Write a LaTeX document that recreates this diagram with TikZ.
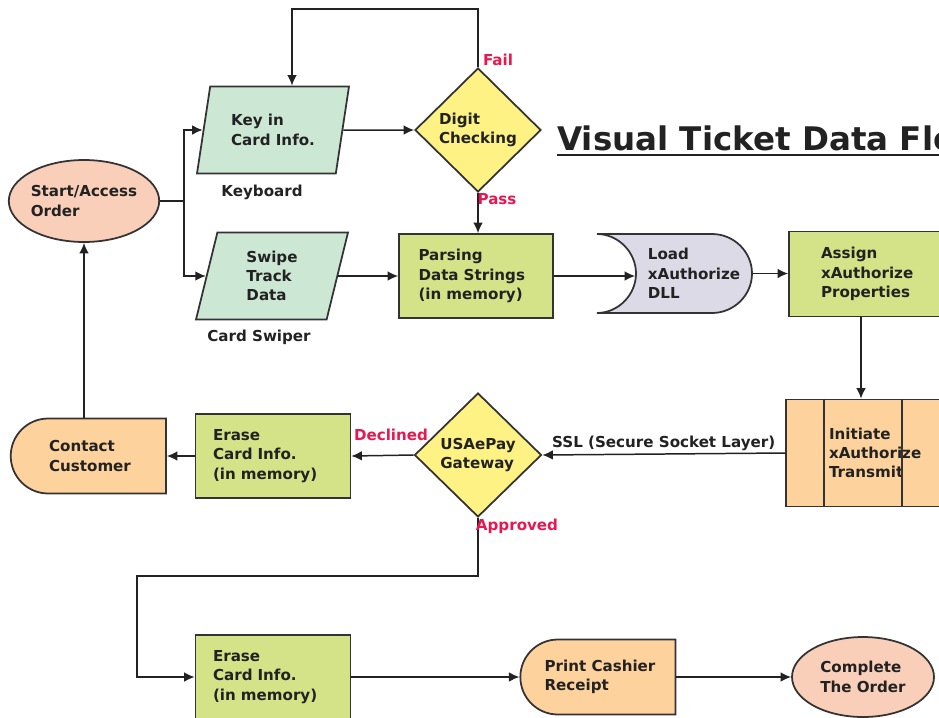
\documentclass[tikz,border=0pt]{standalone}
\usepackage{fontspec}
\newfontfamily\flowfont{DejaVu Sans Bold}
\usetikzlibrary{arrows.meta,shapes.geometric,shapes.misc}

\definecolor{inkgray}{HTML}{222222}
\definecolor{edgegray}{HTML}{333333}
\definecolor{salmon}{HTML}{F9CFBA}
\definecolor{mint}{HTML}{CCE7D4}
\definecolor{lemon}{HTML}{FEF285}
\definecolor{leaf}{HTML}{D4E388}
\definecolor{lavender}{HTML}{DDDAE8}
\definecolor{peach}{HTML}{FDD29C}
\definecolor{flagred}{HTML}{E8174F}

\begin{document}
\begin{tikzpicture}[x=0.02cm,y=-0.02cm,>={Latex[length=6pt,width=5.5pt]},
  font=\flowfont\fontsize{8.6}{11}\selectfont,
  link/.style={draw=inkgray,line width=0.85pt},
  shp/.style={draw=edgegray,line width=1pt,align=left,text=inkgray},
  procbox/.style={shp,rectangle,fill=leaf,minimum width=3.1cm,minimum height=1.68cm},
  iobox/.style={shp,trapezium,trapezium left angle=67,trapezium right angle=113,
    trapezium stretches body,fill=mint,minimum width=3.04cm,minimum height=1.74cm,inner sep=0pt},
  decide/.style={shp,diamond,fill=lemon,minimum width=2.52cm,minimum height=2.48cm,inner sep=0pt},
  term/.style={shp,ellipse,fill=salmon,minimum width=2.84cm,minimum height=1.64cm,inner sep=0pt},
  showbox/.style={shp,rounded rectangle,rounded rectangle right arc=none,fill=peach,
    minimum width=3.34cm,minimum height=1.5cm},
  flag/.style={text=flagred},
  caption/.style={text=inkgray}
]
\useasboundingbox (0,0) rectangle (939,717);
\clip (0,0) rectangle (939,717);
\fill[white] (0,0) rectangle (939,717);

% title
\node[font=\flowfont\fontsize{18.5}{22}\selectfont,text=inkgray,anchor=base west,inner sep=0pt]
  (title) at (557,150) {Visual Ticket Data Flow};
\draw[inkgray,line width=1.1pt] ([yshift=-3pt]title.base west) -- ([yshift=-3pt]title.base east);

% nodes
\node[term] (start) at (84,201) {Start/Access\\Order};
\node[iobox] (keyin) at (273,130) {Key in\\Card Info.};
\node[iobox] (swipe) at (272,276) {Swipe\\Track\\Data};
\node[caption] (kb) at (262,192) {Keyboard};
\node[caption] (cs) at (259,337) {Card Swiper};
\node[decide] (digit) at (478,130) {Digit\\Checking};
\node[procbox,minimum width=3.08cm,text width=2.3cm] (parse) at (476,276) {Parsing\\Data Strings\\(in memory)};
% DLL outline: concave left side, round right side
\draw[edgegray,line width=1pt,fill=lavender] (597,234) -- (712,234)
  .. controls (733.8,234) and (752,251.7) .. (752,273.5)
  .. controls (752,295.3) and (733.8,313) .. (712,313) -- (597,313)
  .. controls (618,313) and (636,295) .. (636,273.5)
  .. controls (636,252) and (618,234) .. (597,234) -- cycle;
\node[shp,draw=none,rectangle,minimum width=2.32cm,minimum height=1.58cm,inner sep=0pt] (load) at (694,273.5) {Load\\xAuthorize\\DLL};
\node[procbox,minimum width=3.08cm,minimum height=1.7cm,text width=1.8cm] (assign) at (866,274) {Assign\\xAuthorize\\Properties};
\node[procbox,fill=peach,minimum width=3.52cm,minimum height=2.14cm,text width=1.8cm] (init) at (874,453) {Initiate\\xAuthorize\\Transmit};
\draw[edgegray,line width=1pt] ([xshift=0.78cm]init.north west) -- ([xshift=0.78cm]init.south west);
\draw[edgegray,line width=1pt] ([xshift=2.34cm]init.north west) -- ([xshift=2.34cm]init.south west);
\node[decide,minimum width=2.54cm] (gate) at (478,455) {USAePay\\Gateway};
\node[procbox,text width=2.4cm] (erase) at (273,456) {Erase\\Card Info.\\(in memory)};
\node[showbox] (contact) at (90,456) {Contact\\Customer};
\node[procbox,text width=2.4cm] (erasetwo) at (273,677) {Erase\\Card Info.\\(in memory)};
\node[showbox] (print) at (600,677) {Print Cashier\\Receipt};
\node[term,minimum height=1.6cm] (done) at (863,677) {Complete\\The Order};

\coordinate (fork) at (184,201);
\coordinate (loop) at (292,9);
\coordinate (okdown) at (478,576);
\coordinate (okleft) at (137,576);

% connectors
\draw[link] (start.east) -- (fork);
\draw[link,->] (fork) |- (keyin.west);
\draw[link,->] (fork) |- (swipe.west);
\draw[link,->] (keyin.east) -- (digit.west);
\draw[link,->] (digit.north) |- (loop) -- (loop |- keyin.north);
\draw[link,->] (digit.south) -- (digit.south |- parse.north);
\draw[link,->] (swipe.east) -- (swipe.east -| parse.west);
\draw[link,->] (parse.east) -- (parse.east -| load.west);
\draw[link,->] (load.east) -- (load.east -| assign.west);
\draw[link,->] (assign.south -| 861,0) -- (init.north -| 861,0);
\draw[link,->] (init.west) -- node[above,inner sep=1.5pt,caption] (ssl) {SSL (Secure Socket Layer)} (gate.east);
\draw[link,->] (gate.west) -- (erase.east);
\draw[link,->] (erase.west) -- (contact.east);
\draw[link,->] (start.south |- contact.north) -- (start.south);
\draw[link,->] (gate.south) -- (okdown) -- (okleft) |- (erasetwo.west);
\draw[link,->] (erasetwo.east) -- (print.west);
\draw[link,->] (print.east) -- (done.west);

% branch labels
\node[flag] (fail) at (498,60) {Fail};
\node[flag] (pass) at (497,199) {Pass};
\node[flag] (declined) at (391,435) {Declined};
\node[flag] (approved) at (517,526) {Approved};

\end{tikzpicture}
\end{document}
